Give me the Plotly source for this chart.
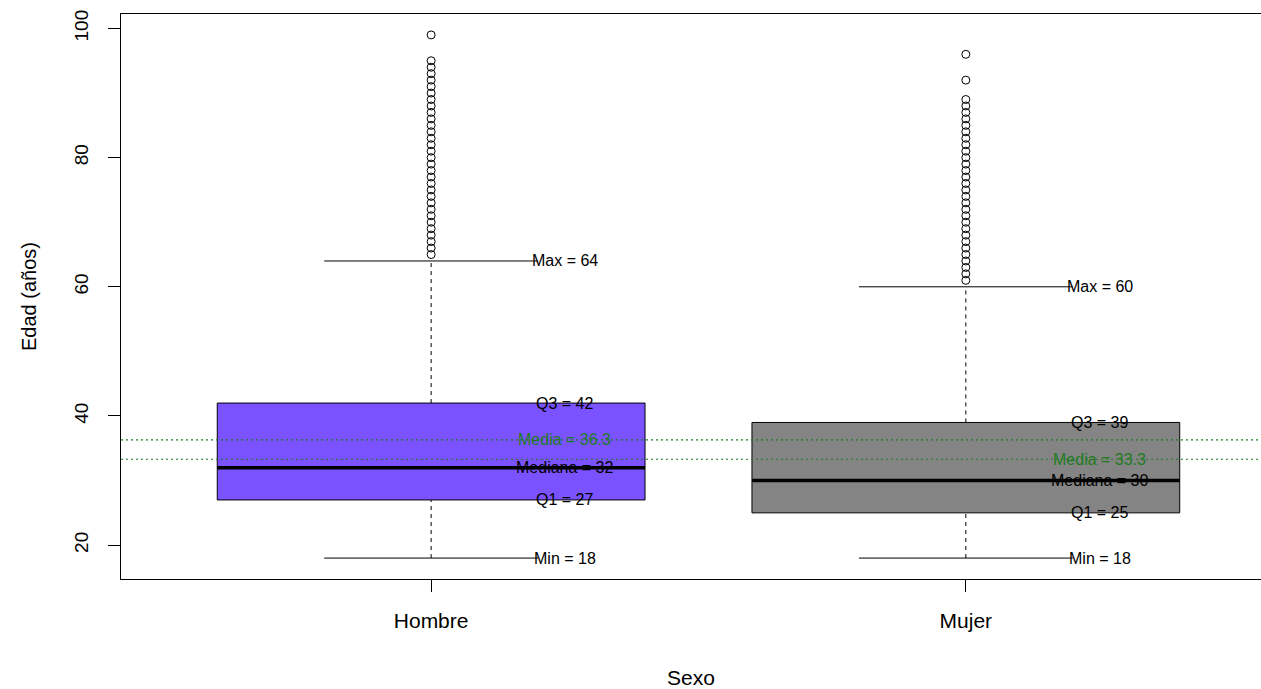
import plotly.graph_objects as go

# ---------------- data ----------------
categories = ["Hombre", "Mujer"]
positions = [1, 2]
box_colors = ["#7B52FF", "#848484"]
q1_vals = [27, 25]
median_vals = [32, 30]
q3_vals = [42, 39]
min_vals = [18, 18]
max_vals = [64, 60]
mean_vals = [36.3, 33.3]
outliers_hombre = [65, 66, 67, 68, 69, 70, 71, 72, 73, 74, 75, 76, 77, 78, 79, 80,
                   81, 82, 83, 84, 85, 86, 87, 88, 89, 90, 91, 92, 93, 94, 95, 99]
outliers_mujer = [61, 62, 63, 64, 65, 66, 67, 68, 69, 70, 71, 72, 73, 74, 75, 76,
                  77, 78, 79, 80, 81, 82, 83, 84, 85, 86, 87, 88, 89, 92, 96]
outliers = [outliers_hombre, outliers_mujer]
y_ticks = [20, 40, 60, 80, 100]

# ---------------- style ----------------
BOX_HALF = 0.4
CAP_HALF = 0.2
LABEL_DX = 0.25
FONT = "Liberation Sans, Arial, sans-serif"
GREEN = "#1E7B1E"

fig = go.Figure()

for i, pos in enumerate(positions):
    # whiskers (dashed)
    fig.add_trace(go.Scatter(x=[pos, pos], y=[q3_vals[i], max_vals[i]], mode="lines",
                             line=dict(color="black", width=1, dash="4px,4px"),
                             showlegend=False, hoverinfo="skip"))
    fig.add_trace(go.Scatter(x=[pos, pos], y=[min_vals[i], q1_vals[i]], mode="lines",
                             line=dict(color="black", width=1, dash="4px,4px"),
                             showlegend=False, hoverinfo="skip"))
    # caps
    for v in (min_vals[i], max_vals[i]):
        fig.add_trace(go.Scatter(x=[pos - CAP_HALF, pos + CAP_HALF], y=[v, v], mode="lines",
                                 line=dict(color="black", width=1),
                                 showlegend=False, hoverinfo="skip"))
    # box
    fig.add_trace(go.Scatter(
        x=[pos - BOX_HALF, pos + BOX_HALF, pos + BOX_HALF, pos - BOX_HALF, pos - BOX_HALF],
        y=[q1_vals[i], q1_vals[i], q3_vals[i], q3_vals[i], q1_vals[i]],
        mode="lines", fill="toself", fillcolor=box_colors[i],
        line=dict(color="black", width=1), showlegend=False, hoverinfo="skip"))
    # median
    fig.add_trace(go.Scatter(x=[pos - BOX_HALF, pos + BOX_HALF],
                             y=[median_vals[i], median_vals[i]], mode="lines",
                             line=dict(color="black", width=3.5),
                             showlegend=False, hoverinfo="skip"))
    # outliers
    fig.add_trace(go.Scatter(x=[pos] * len(outliers[i]), y=outliers[i], mode="markers",
                             marker=dict(symbol="circle-open", size=8,
                                         color="black", line=dict(width=1)),
                             showlegend=False, hoverinfo="skip"))

# mean lines across the plot
for m in mean_vals:
    fig.add_shape(type="line", xref="paper", x0=0, x1=1, yref="y", y0=m, y1=m,
                  line=dict(color=GREEN, width=1.2, dash="2px,3px"), layer="above")

# labels
for i, pos in enumerate(positions):
    labels = [
        (max_vals[i], f"Max = {max_vals[i]}", "black"),
        (q3_vals[i], f"Q3 = {q3_vals[i]}", "black"),
        (mean_vals[i], f"Media = {mean_vals[i]}", GREEN),
        (median_vals[i], f"Mediana = {median_vals[i]}", "black"),
        (q1_vals[i], f"Q1 = {q1_vals[i]}", "black"),
        (min_vals[i], f"Min = {min_vals[i]}", "black"),
    ]
    for y, t, c in labels:
        fig.add_annotation(x=pos + LABEL_DX, y=y, text=t, showarrow=False,
                           xanchor="center", yanchor="middle",
                           font=dict(family=FONT, size=16, color=c))

fig.update_layout(
    width=1261, height=689,
    margin=dict(l=121, r=0, t=14, b=105),
    paper_bgcolor="white", plot_bgcolor="white",
    font=dict(family=FONT, size=20, color="black"),
    showlegend=False,
)
fig.update_xaxes(
    range=[0.42, 2.552], tickvals=positions, ticktext=categories,
    showgrid=False, zeroline=False,
    showline=True, linecolor="black", linewidth=1, mirror=True,
    ticks="outside", ticklen=12, tickcolor="black", ticklabelstandoff=11,
    tickfont=dict(size=21),
    title=dict(text="Sexo", font=dict(size=21), standoff=42),
)
fig.update_yaxes(
    range=[14.76, 102.24], tickvals=y_ticks, ticktext=[str(v) for v in y_ticks],
    showgrid=False, zeroline=False,
    showline=True, linecolor="black", linewidth=1, mirror=False,
    ticks="outside", ticklen=12, tickcolor="black", tickangle=-90,
    ticklabelstandoff=12,
    tickfont=dict(size=19),
    title=dict(text="Edad (años)", font=dict(size=20), standoff=29),
)

fig.write_html("out.html", config={"displayModeBar": False},
               post_script="document.body.style.margin='0';")
